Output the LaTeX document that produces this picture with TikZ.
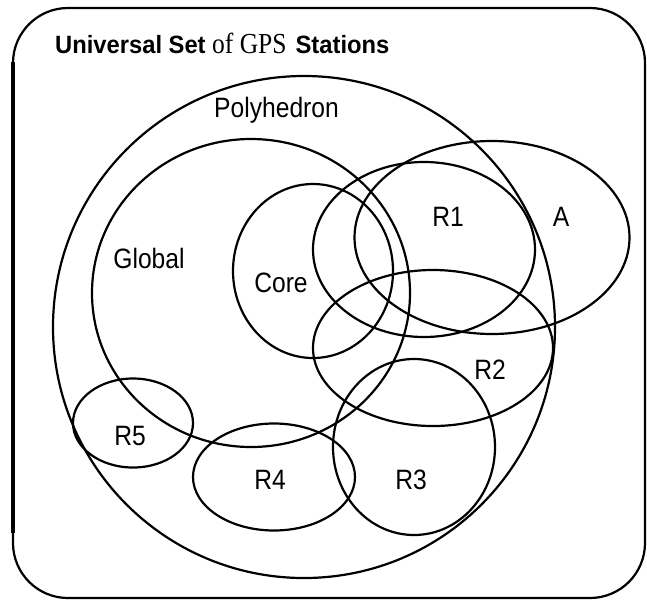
\documentclass[tikz,border=0pt]{standalone}
\usepackage{fontspec}
\newfontfamily\labfont[FakeStretch=0.88]{Liberation Sans}
\newfontfamily\titsans[FakeStretch=0.95]{Liberation Sans}
\newfontfamily\titserif[FakeStretch=0.88]{Liberation Serif}
\begin{document}
\begin{tikzpicture}[x=1pt,y=-1pt,
  lab/.style={inner sep=0pt, anchor=base, font=\labfont\fontsize{28}{30}\selectfont},
  setline/.style={line width=2.2pt}]
\useasboundingbox (0,0) rectangle (647,603);
% universal set frame
\draw[setline, rounded corners=55pt] (13,8) rectangle (645,598);
\draw[line width=4.5pt] (13,62) -- (13,533);
% sets
\draw[setline] (304,327) circle [radius=251];                 % Polyhedron
\draw[setline] (251,293) ellipse [x radius=159, y radius=154]; % Global
\draw[setline] (313,271) ellipse [x radius=80, y radius=87];   % Core
\draw[setline] (424,249.5) ellipse [x radius=111, y radius=87.5]; % R1
\draw[setline] (492,237.5) ellipse [x radius=137.5, y radius=96.5]; % A
\draw[setline] (433,348) ellipse [x radius=120, y radius=78];  % R2
\draw[setline] (414,447) ellipse [x radius=81, y radius=88];   % R3
\draw[setline] (274,477) ellipse [x radius=81, y radius=53.5]; % R4
\draw[setline] (133,423) ellipse [x radius=60, y radius=44.5]; % R5
% labels
\node[inner sep=0pt, anchor=base west] (title) at (55,53)
  {{\titsans\bfseries\fontsize{25}{28}\selectfont Universal Set}\hspace{6.5pt}{\titserif\fontsize{29}{30}\selectfont of GPS}\hspace{9pt}{\titsans\bfseries\fontsize{25}{28}\selectfont Stations}};
\node[lab] (lpoly) at (276.5,117) {Polyhedron};
\node[lab] (lglobal) at (149,268) {Global};
\node[lab] (lcore) at (281,292) {Core};
\node[lab] (lr1) at (448,226) {R1};
\node[lab] (la) at (561,226) {A};
\node[lab] (lr2) at (490,379) {R2};
\node[lab] (lr3) at (411,489) {R3};
\node[lab] (lr4) at (270,489) {R4};
\node[lab] (lr5) at (130,445) {R5};
\end{tikzpicture}
\end{document}
